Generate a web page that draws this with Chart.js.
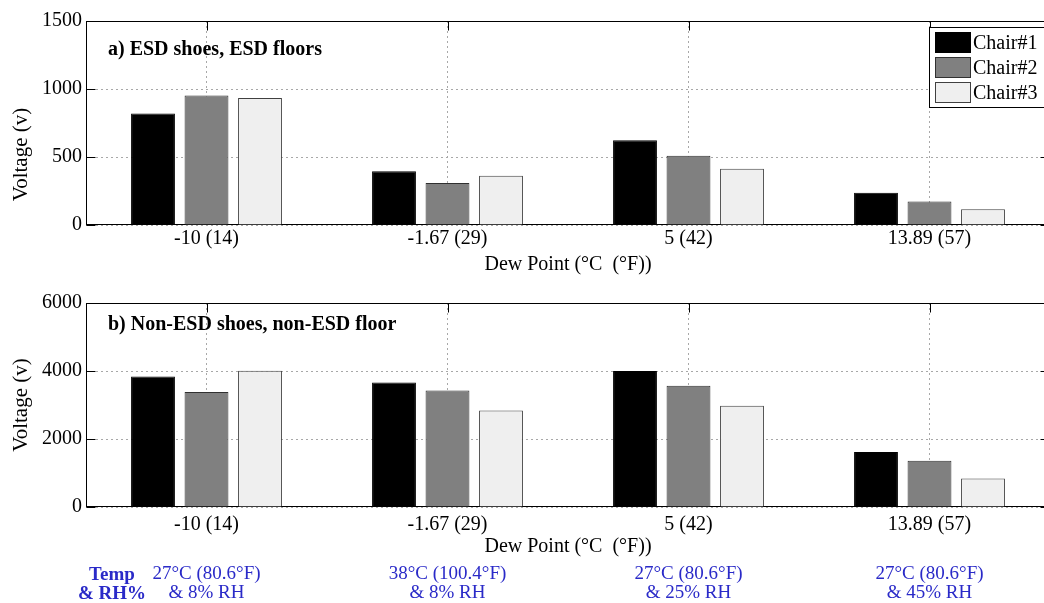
<!DOCTYPE html>
<html>
<head>
<meta charset="utf-8">
<script src="https://cdn.jsdelivr.net/npm/chart.js@4"></script>
<style>
  html, body { margin: 0; padding: 0; background: #fff; overflow: hidden; }
  #wrap { position: relative; width: 1044px; height: 603px; overflow: hidden; background: #fff; }
  canvas { position: absolute; left: 0; }
</style>
</head>
<body>
<div id="wrap">
  <canvas id="esdChart" width="1060" height="280" style="top:0"></canvas>
  <canvas id="nonEsdChart" width="1060" height="323" style="top:280px"></canvas>
</div>
<script>
// dew point categories, °C (°F)
const categories = ['-10 (14)', '-1.67 (29)', '5 (42)', '13.89 (57)'];
const seriesNames = ['Chair#1', 'Chair#2', 'Chair#3'];

// a) ESD shoes, ESD floors
const esdChair1 = [820, 395, 623, 238];
const esdChair2 = [953, 309, 510, 172];
const esdChair3 = [934, 363, 414, 115];

// b) Non-ESD shoes, non-ESD floor
const nonEsdChair1 = [3840, 3665, 4000, 1618];
const nonEsdChair2 = [3382, 3429, 3568, 1362];
const nonEsdChair3 = [4005, 2841, 2979, 841];

const esdTicks = [0, 500, 1000, 1500];
const nonEsdTicks = [0, 2000, 4000, 6000];

const tempLabels = ['27°C (80.6°F)', '38°C (100.4°F)', '27°C (80.6°F)', '27°C (80.6°F)'];
const rhLabels = ['& 8% RH', '& 8% RH', '& 25% RH', '& 45% RH'];

const fills = ['#000000', '#808080', '#efefef'];
const edges = ['#000000', '#303030', '#404040'];
const SERIF = "'Liberation Serif', 'Times New Roman', serif";
const BLUE = '#2a2ac8';

// box round the axes plus inward tick marks, drawn under the bars
const framePlugin = {
  id: 'frame',
  beforeDatasetsDraw(chart) {
    const { ctx, chartArea: a, scales } = chart;
    const L = Math.round(a.left) + 0.5, R = Math.round(a.right) - 0.5;
    const T = Math.round(a.top) + 0.5, B = Math.round(a.bottom) - 0.5;
    ctx.save();
    ctx.strokeStyle = '#000';
    ctx.lineWidth = 1;
    ctx.strokeRect(L, T, R - L, B - T);
    ctx.beginPath();
    scales.x.ticks.forEach((t, i) => {
      const px = Math.round(scales.x.getPixelForValue(i)) + 0.5;
      ctx.moveTo(px, B); ctx.lineTo(px, B - 9);
      ctx.moveTo(px, T); ctx.lineTo(px, T + 9);
    });
    scales.y.ticks.forEach(t => {
      const py = Math.round(scales.y.getPixelForValue(t.value)) + 0.5;
      ctx.moveTo(L, py); ctx.lineTo(L + 9, py);
      ctx.moveTo(R, py); ctx.lineTo(R - 9, py);
    });
    ctx.stroke();
    ctx.restore();
  }
};

// panel caption, boxed legend and condition notes
const notesPlugin = {
  id: 'notes',
  afterDraw(chart, args, opts) {
    const { ctx, chartArea: a, scales } = chart;
    ctx.save();
    ctx.font = 'bold 20px ' + SERIF;
    ctx.fillStyle = '#000';
    ctx.textAlign = 'left';
    ctx.textBaseline = 'middle';
    ctx.fillText(opts.caption, a.left + 22, a.top + opts.captionDy);

    if (opts.legend) {
      const bx = 929.5, by = 27.5, bw = 118, bh = 80;
      ctx.fillStyle = '#fff';
      ctx.fillRect(bx, by, bw, bh);
      ctx.strokeStyle = '#000';
      ctx.strokeRect(bx, by, bw, bh);
      ctx.font = '20px ' + SERIF;
      chart.data.datasets.forEach((ds, i) => {
        const sy = 32.5 + i * 25;
        ctx.fillStyle = ds.backgroundColor;
        ctx.fillRect(935.5, sy, 35, 20);
        ctx.strokeStyle = ds.borderColor;
        ctx.strokeRect(935.5, sy, 35, 20);
        ctx.fillStyle = '#000';
        ctx.fillText(ds.label, 973, sy + 11);
      });
    }

    if (opts.conditions) {
      ctx.fillStyle = BLUE;
      ctx.textAlign = 'center';
      ctx.font = 'bold 19px ' + SERIF;
      ctx.fillText('Temp', 112, a.bottom + 68);
      ctx.fillText('& RH%', 112, a.bottom + 87);
      ctx.font = '19px ' + SERIF;
      categories.forEach((c, i) => {
        const px = scales.x.getPixelForValue(i);
        ctx.fillText(tempLabels[i], px, a.bottom + 67);
        ctx.fillText(rhLabels[i], px, a.bottom + 86);
      });
    }
    ctx.restore();
  }
};

function makeChart(id, series, yTicks, padding, notes, axisText) {
  return new Chart(document.getElementById(id), {
    type: 'bar',
    data: {
      labels: categories,
      datasets: series.map((values, i) => ({
        label: seriesNames[i],
        data: values,
        backgroundColor: fills[i],
        borderColor: edges[i],
        borderWidth: 1,
        barPercentage: 0.82,
        categoryPercentage: 0.666
      }))
    },
    options: {
      responsive: false,
      animation: false,
      devicePixelRatio: 1,
      layout: { padding: padding },
      plugins: {
        legend: { display: false },
        tooltip: { enabled: false },
        notes: notes
      },
      scales: {
        x: {
          afterFit: s => { s.height = 55; },
          grid: {
            offset: false,
            drawTicks: false,
            color: '#a8a8a8',
            lineWidth: 1
          },
          border: { display: false, dash: [2, 3] },
          ticks: {
            padding: axisText.tickPad,
            color: '#000',
            font: { family: SERIF, size: 20 }
          },
          title: {
            display: true,
            text: 'Dew Point (°C  (°F))',
            color: '#000',
            font: { family: SERIF, size: 20 },
            padding: { top: 0, bottom: axisText.titlePad }
          }
        },
        y: {
          min: yTicks[0],
          max: yTicks[yTicks.length - 1],
          afterFit: s => { s.width = 86; },
          afterBuildTicks: s => { s.ticks = yTicks.map(v => ({ value: v })); },
          grid: {
            drawTicks: false,
            color: '#a8a8a8',
            lineWidth: 1
          },
          border: { display: false, dash: [2, 3] },
          ticks: {
            padding: 4,
            color: '#000',
            font: { family: SERIF, size: 20 },
            callback: v => String(v)
          },
          title: {
            display: true,
            text: axisText.yTitle,
            color: '#000',
            font: { family: SERIF, size: 21 },
            padding: { top: 9, bottom: 0 }
          }
        }
      }
    },
    plugins: [framePlugin, notesPlugin]
  });
}

// top panel's y label sits lower than centre in the original, so pad its end
makeChart('esdChart', [esdChair1, esdChair2, esdChair3], esdTicks,
  { top: 21, right: 10, left: 0, bottom: 0 },
  { caption: 'a) ESD shoes, ESD floors', captionDy: 29, legend: true, conditions: false },
  { tickPad: 2, titlePad: 3, yTitle: 'Voltage (v)' + ' '.repeat(12) });

makeChart('nonEsdChart', [nonEsdChair1, nonEsdChair2, nonEsdChair3], nonEsdTicks,
  { top: 23, right: 10, left: 0, bottom: 41 },
  { caption: 'b) Non-ESD shoes, non-ESD floor', captionDy: 22, legend: false, conditions: true },
  { tickPad: 6, titlePad: 3, yTitle: 'Voltage (v)' });
</script>
</body>
</html>
